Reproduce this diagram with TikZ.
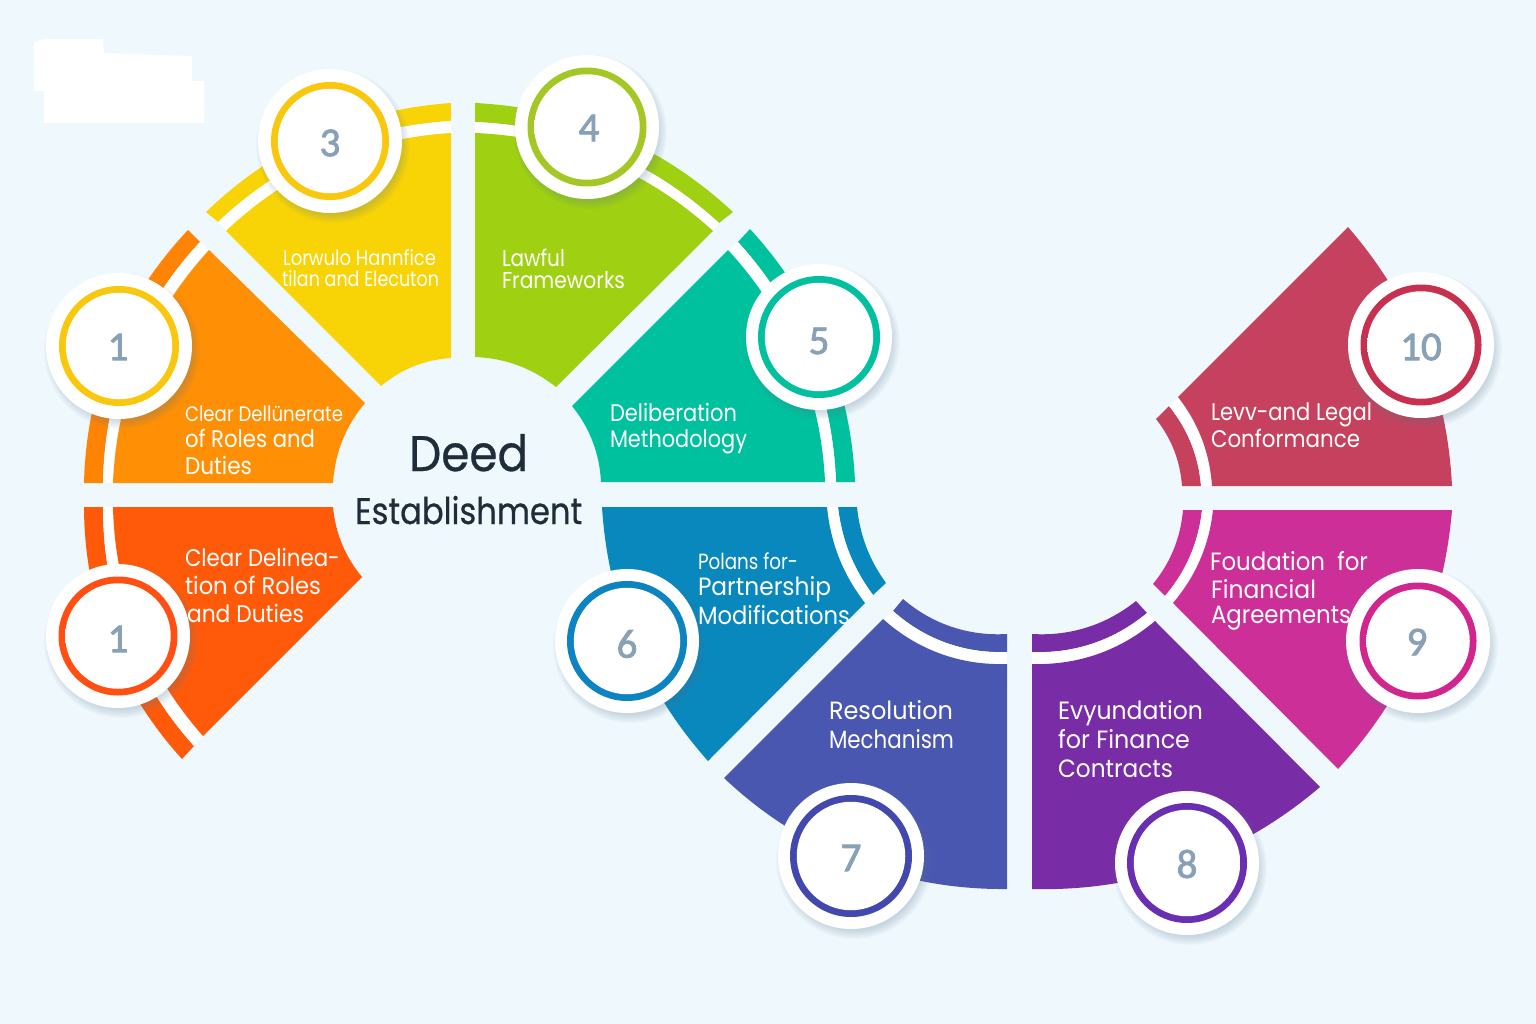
\documentclass[tikz,border=0pt]{standalone}
\usepackage{fontspec}
\usepackage{graphicx}
\setmainfont{Poppins}
\newfontfamily\medfont[FakeBold=0.6]{Poppins}
\newfontfamily\numfont[FakeBold=2]{Carlito}
\definecolor{bgc}{HTML}{EFF8FD}
\definecolor{cYel}{HTML}{F8D305}\definecolor{cOra}{HTML}{FF8F05}\definecolor{cOrb}{HTML}{FF8405}
\definecolor{cRed}{HTML}{FF5A0A}\definecolor{cGrn}{HTML}{9FD012}\definecolor{cTea}{HTML}{00C19E}
\definecolor{cBlu}{HTML}{0888BD}\definecolor{cInd}{HTML}{4A57B0}\definecolor{cPur}{HTML}{782DA6}
\definecolor{cMag}{HTML}{CC3098}\definecolor{cCri}{HTML}{C6415D}
\definecolor{rYel}{HTML}{F9C80E}\definecolor{rRed}{HTML}{FF4F12}\definecolor{rGrn}{HTML}{A5C726}
\definecolor{rTea}{HTML}{00C0A0}\definecolor{rBlu}{HTML}{0D84C0}\definecolor{rInd}{HTML}{4248AD}
\definecolor{rPur}{HTML}{6A2FB0}\definecolor{rMag}{HTML}{D0268E}\definecolor{rCri}{HTML}{C8304F}
\definecolor{numc}{HTML}{88A1B6}\definecolor{ink}{HTML}{1F2D3A}\definecolor{shc}{HTML}{5F7F98}
\pgfdeclareradialshading{badgeface}{\pgfpointorigin}{rgb(0bp)=(1,1,1); rgb(40bp)=(1,1,1); rgb(47bp)=(.96,.975,.985); rgb(50bp)=(.85,.9,.94); rgb(100bp)=(.85,.9,.94)}
\tikzset{
  cw/.style={bend left=#1,looseness=.9},
  ccw/.style={bend right=#1,looseness=.9},
  txtline/.style={anchor=base west,inner sep=0pt,outer sep=0pt,text=white},
  disc/.style={circle,inner sep=0pt,outer sep=0pt},
}
% name, x, baseline, size, width, text
\newcommand{\tline}[6]{\node[txtline] (#1) at (#2,#3) {\fontsize{#4}{#4}\selectfont\resizebox{#5pt}{\height}{#6}};}
% name, x, y, outer radius, ring colour, ring diameter; then number, number x, number y
\newcommand{\badge}[9]{%
  \foreach \k in {0,...,7}{\fill[shc,opacity=.035] (#2+3,#3+5) circle ({#4+5-\k*1.2});}
  \node[disc,fill=white,minimum size=#4*2pt] (#1) at (#2,#3) {};
  \node[disc,fill=#5,minimum size=#6pt] (#1r) at (#2,#3) {};
  \node[disc,shading=badgeface,minimum size=#6pt-13.5pt] (#1f) at (#2,#3) {};
  \node[inner sep=0pt,text=numc] (#1n) at (#8,#9) {\numfont\fontsize{41}{41}\selectfont #7};
}
\begin{document}
\begin{tikzpicture}[x=1pt,y=-1pt]
\useasboundingbox (0,0) rectangle (1536,1024);
\fill[bgc] (0,0) rectangle (1536,1024);
\fill[white] (34,43) -- (43,39) -- (103,39) -- (104,53) -- (192,56) -- (192,81) -- (204,81) -- (204,123) -- (44,123) -- (44,91) -- (34,91) -- cycle;
% red
\fill[cRed] (84,507) to[ccw=21] (182,759) -- (194,746) to[cw=21] (103,507) -- cycle;
\fill[white] (103,507) to[ccw=21] (194,746) -- (203,736) to[cw=21] (113,507) -- cycle;
\fill[cRed] (113,507) -- (333,507) to[ccw=17] (362,577) -- (203,736) to[cw=20] (113,507) -- cycle;
% orange
\fill[cOrb] (84,483) to[cw=21] (188,230) -- (200,242) to[ccw=21] (103,483) -- cycle;
\fill[white] (103,483) to[cw=21] (200,242) -- (209,250) to[ccw=21] (113,483) -- cycle;
\fill[cOra] (113,483) to[cw=20] (209,250) -- (365,403) to[ccw=18] (333,483) -- cycle;
% yellow
\fill[cYel] (206,212) to[cw=20] (451,103) -- (451,121) to[ccw=20] (218,222) -- cycle;
\fill[white] (218,222) to[cw=20] (451,121) -- (451,133) to[ccw=20] (226,231) -- cycle;
\fill[cYel] (226,231) to[cw=20] (451,133) -- (451,358) to[ccw=18] (381,386) -- cycle;
% green
\fill[cGrn] (475,103) to[cw=20] (733,212) -- (719,223) to[ccw=20] (475,122) -- cycle;
\fill[white] (475,122) to[cw=20] (719,223) -- (713,231) to[ccw=20] (475,133) -- cycle;
\fill[cGrn] (475,133) to[cw=20] (713,231) -- (556,387) to[ccw=18] (475,357) -- cycle;
% teal
\fill[cTea] (750,229) to[cw=20] (855,482) -- (836,482) to[ccw=20] (738,242) -- cycle;
\fill[white] (738,242) to[cw=20] (836,482) -- (825,482) to[ccw=20] (728,250) -- cycle;
\fill[cTea] (728,250) to[cw=20] (825,482) -- (601,482) to[ccw=18] (572,406) -- cycle;
% blue
\fill[cBlu] (838,507) to[ccw=15] (873,595) -- (886,583) to[cw=15] (857,507) -- cycle;
\fill[white] (827,507) to[ccw=16] (865,603) -- (873,595) to[cw=15] (838,507) -- cycle;
\fill[cBlu] (602,507) to[ccw=19] (708,761) -- (865,603) to[cw=16] (827,507) -- cycle;
% indigo
\fill[cInd] (903,599) to[ccw=22] (1007,634) -- (1007,652) to[cw=22] (893,611) -- cycle;
\fill[white] (893,611) to[ccw=22] (1007,652) -- (1007,664) to[cw=22] (883,619) -- cycle;
\fill[cInd] (724,778) to[ccw=22] (1007,889) -- (1007,664) to[cw=22] (883,619) -- cycle;
% purple
\fill[cPur] (1032,634) to[ccw=21] (1136,601) -- (1147,613) to[cw=21] (1032,652) -- cycle;
\fill[white] (1032,652) to[ccw=21] (1147,613) -- (1155,621) to[cw=21] (1032,664) -- cycle;
\fill[cPur] (1032,889) to[ccw=21] (1320,787) -- (1155,621) to[cw=21] (1032,664) -- cycle;
% magenta
\fill[cMag] (1165,596) to[ccw=17] (1202,510) -- (1183,510) to[cw=17] (1153,584) -- cycle;
\fill[white] (1173,603) to[ccw=17] (1213,510) -- (1202,510) to[cw=17] (1165,596) -- cycle;
\fill[cMag] (1213,510) -- (1452,510) to[cw=19] (1338,769) -- (1173,603) to[ccw=17] (1213,510) -- cycle;
% crimson
\fill[cCri] (1169,406) to[cw=17] (1201,486) -- (1182,486) to[ccw=17] (1156,419) -- cycle;
\fill[white] (1178,397) to[cw=17] (1212,486) -- (1201,486) to[ccw=17] (1169,406) -- cycle;
\fill[cCri] (1212,486) -- (1452,486) to[ccw=19] (1348,227) -- (1178,397) to[cw=17] (1212,486) -- cycle;
% badges
\badge{bA}{119}{346}{73}{rYel}{120}{1}{118}{347}
\badge{bB}{118}{636}{72}{rRed}{119}{1}{118}{639}
\badge{bC}{330}{141}{72}{rYel}{118}{3}{330}{143}
\badge{bD}{587}{127}{72}{rGrn}{119}{4}{589}{128}
\badge{bE}{819}{337}{73}{rTea}{122}{5}{819}{341}
\badge{bF}{627}{641}{72}{rBlu}{120}{6}{627}{644}
\badge{bG}{851}{856}{73}{rInd}{122}{7}{851}{858}
\badge{bH}{1187}{863}{72}{rPur}{120}{8}{1187}{864}
\badge{bI}{1418}{641}{72}{rMag}{117}{9}{1417}{642}
\badge{bJ}{1421}{345}{73}{rCri}{121}{10}{1421}{347}
% texts
\tline{ra}{185}{566}{24}{155}{Clear Delinea-}
\tline{rb}{185}{594}{24}{136}{tion of Roles}
\tline{rc}{187}{622}{24}{117}{and Duties}
\tline{oa}{185}{421}{21}{158}{Clear Dellünerate}
\tline{ob}{185}{447}{24}{130}{of Roles and}
\tline{oc}{185}{474}{24}{67}{Duties}
\tline{ya}{283}{266}{21}{153}{Lorwulo Hannfice}
\tline{yb}{282}{287}{21}{157}{tilan and Elecuton}
\tline{ga}{502}{267}{23}{63}{Lawful}
\tline{gb}{502}{289}{23}{123}{Frameworks}
\tline{ta}{610}{421}{24}{127}{Deliberation}
\tline{tb}{610}{447}{24}{137}{Methodology}
\tline{ba}{698}{569}{22}{100}{Polans for-}
\tline{bb}{698}{595}{25}{133}{Partnership}
\tline{bc}{698}{624}{25}{152}{Modifications}
\tline{ia}{829}{719}{25}{124}{Resolution}
\tline{ib}{829}{748}{25}{125}{Mechanism}
\tline{pa}{1058}{719}{25}{145}{Evyundation}
\tline{pb}{1058}{748}{25}{132}{for Finance}
\tline{pc}{1058}{777}{25}{115}{Contracts}
\tline{ma}{1210}{570}{25}{158}{Foudation\ \ for}
\tline{mb}{1211}{598}{25}{105}{Financial}
\tline{mc}{1211}{623}{25}{140}{Agreements}
\tline{ca}{1211}{420}{24}{161}{Levv-and Legal}
\tline{cb}{1211}{447}{24}{149}{Conformance}
\node[anchor=base west,inner sep=0pt,text=ink] (tt1) at (409,471) {\medfont\fontsize{50}{50}\selectfont\resizebox{119pt}{\height}{Deed}};
\node[anchor=base west,inner sep=0pt,text=ink] (tt2) at (355,524) {\medfont\fontsize{37}{37}\selectfont\resizebox{227pt}{\height}{Establishment}};
\end{tikzpicture}
\end{document}
